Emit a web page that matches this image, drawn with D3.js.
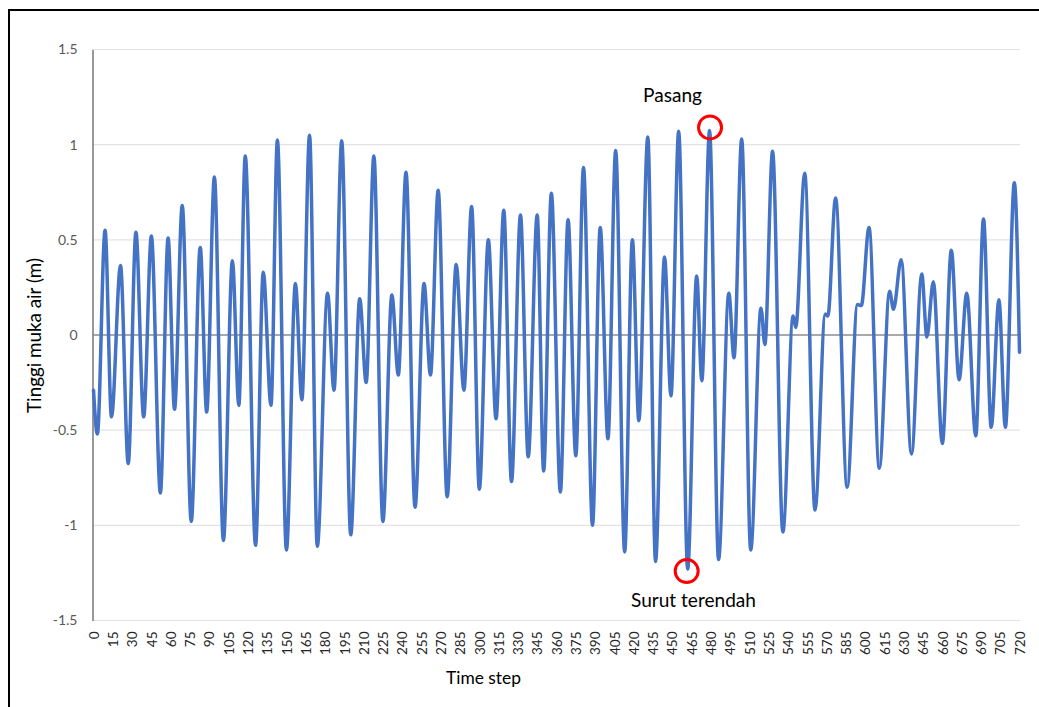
<!DOCTYPE html>
<html>
<head>
<meta charset="utf-8">
<script src="https://cdn.jsdelivr.net/npm/d3@7"></script>
<style>
  html, body { margin: 0; padding: 0; background: #fff; }
  svg { display: block; font-family: Lato, "Open Sans", sans-serif; }
</style>
</head>
<body>
<svg id="chart" width="1039" height="707"></svg>
<script>
// Water level turning points (time step, metres)
const timeSteps = [
  0, 3, 9, 14, 21, 27, 33, 39, 45, 52, 58, 63, 69, 76, 83, 88, 94, 101, 108, 113,
  118, 126, 132, 138, 143, 150, 157, 162, 168, 174, 182, 187, 193, 200, 207, 212, 218, 225, 232, 237,
  243, 250, 257, 262, 268, 275, 282, 288, 294, 300, 307, 313, 319, 325, 332, 338, 345, 350, 356, 363,
  369, 375, 381, 388, 394, 400, 406, 413, 419, 424, 431, 437, 444, 449, 455, 462, 469, 473, 479, 486,
  494, 498, 504, 511, 519, 522, 528, 536, 544, 546, 553, 561, 569, 571, 577, 586, 594, 597, 603, 611,
  619, 622, 628, 636, 644, 648, 653, 660, 667, 673, 679, 686, 692, 698, 704, 709, 716, 720
];
const waterLevel = [
  -0.29, -0.52, 0.55, -0.43, 0.365, -0.675, 0.54, -0.43, 0.52, -0.83, 0.51, -0.39, 0.68, -0.98, 0.46, -0.405, 0.83, -1.08, 0.39, -0.37,
  0.94, -1.105, 0.33, -0.37, 1.025, -1.13, 0.27, -0.34, 1.05, -1.11, 0.22, -0.29, 1.02, -1.05, 0.19, -0.25, 0.94, -0.98, 0.21, -0.21,
  0.855, -0.905, 0.27, -0.21, 0.76, -0.85, 0.37, -0.29, 0.675, -0.81, 0.50, -0.44, 0.655, -0.77, 0.63, -0.64, 0.63, -0.715, 0.745, -0.825,
  0.605, -0.635, 0.88, -1.0, 0.565, -0.545, 0.97, -1.14, 0.50, -0.45, 1.04, -1.19, 0.41, -0.32, 1.07, -1.23, 0.31, -0.24, 1.075, -1.18,
  0.22, -0.12, 1.03, -1.13, 0.14, -0.05, 0.965, -1.035, 0.10, 0.04, 0.85, -0.92, 0.11, 0.10, 0.72, -0.80, 0.16, 0.155, 0.565, -0.70,
  0.23, 0.135, 0.395, -0.625, 0.32, -0.01, 0.28, -0.57, 0.445, -0.235, 0.22, -0.53, 0.61, -0.485, 0.185, -0.485, 0.80, -0.09
];
const xTicks = d3.range(0, 721, 15);
const yTicks = [-1.5, -1, -0.5, 0, 0.5, 1, 1.5];
const yTickLabels = ["-1.5", "-1", "-0.5", "0", "0.5", "1", "1.5"];
const xTitle = "Time step";
const yTitle = "Tinggi muka air (m)";
const highLabel = "Pasang";
const lowLabel = "Surut terendah";

const points = timeSteps.map((t, i) => ({ t, v: waterLevel[i] }));

const svg = d3.select("#chart");
const plot = { left: 92.5, right: 1020, top: 49.5, bottom: 620.5 };

const x = d3.scaleLinear().domain([0, 720]).range([93.5, 1019.5]);
const y = d3.scaleLinear().domain([-1.5, 1.5]).range([plot.bottom, plot.top]);

// scale a label's font so that its run length equals the given width
function fitWidth(sel, width) {
  const base = parseFloat(sel.style("font-size"));
  const w = sel.node().getComputedTextLength();
  if (w > 0) sel.style("font-size", (base * width / w).toFixed(2) + "px");
  return sel;
}

// frame
svg.append("path")
  .attr("d", `M9,707 V10 H1039`)
  .attr("fill", "none").attr("stroke", "#000").attr("stroke-width", 2);

// horizontal gridlines
svg.append("g").selectAll("line")
  .data(yTicks.filter(d => d !== 0))
  .join("line")
  .attr("x1", plot.left).attr("x2", plot.right)
  .attr("y1", d => y(d)).attr("y2", d => y(d))
  .attr("stroke", "#e3e3e3").attr("stroke-width", 1.2);

// y axis with labels
const yAxis = svg.append("g")
  .attr("transform", `translate(${plot.left},0)`)
  .call(d3.axisLeft(y).tickValues(yTicks).tickSize(0).tickPadding(15)
    .tickFormat((d, i) => yTickLabels[i]));
yAxis.select(".domain").attr("stroke", "#7f7f7f").attr("stroke-width", 1.6);
yAxis.selectAll("text")
  .attr("fill", "#595959").style("font-size", "14px").style("font-family", "Lato, sans-serif");

// zero line (category axis crossing)
svg.append("line")
  .attr("x1", plot.left).attr("x2", plot.right)
  .attr("y1", y(0)).attr("y2", y(0))
  .attr("stroke", "#8c8c8c").attr("stroke-width", 1.4);

// x axis labels placed below the plot
const xAxis = svg.append("g")
  .attr("transform", `translate(0,${plot.bottom})`)
  .call(d3.axisBottom(x).tickValues(xTicks).tickSize(0).tickFormat(d3.format("d")));
xAxis.select(".domain").remove();
xAxis.selectAll("text")
  .attr("transform", "rotate(-90)")
  .attr("x", -11).attr("y", 0).attr("dy", "0.35em")
  .attr("text-anchor", "end")
  .attr("fill", "#262626")
  .style("font-size", "13.5px").style("font-family", "Lato, sans-serif");

// water level line
const line = d3.line()
  .x(d => x(d.t)).y(d => y(d.v))
  .curve(d3.curveMonotoneX);
svg.append("path")
  .datum(points)
  .attr("d", line)
  .attr("fill", "none")
  .attr("stroke", "#4472C4")
  .attr("stroke-width", 3.5)
  .attr("stroke-linejoin", "round")
  .attr("stroke-linecap", "round");

// highest and lowest water markers
const hi = points.reduce((a, b) => (b.v > a.v ? b : a));
const lo = points.reduce((a, b) => (b.v < a.v ? b : a));
svg.append("circle")
  .attr("cx", x(hi.t) + 0.5).attr("cy", y(hi.v) - 3).attr("r", 11.5)
  .attr("fill", "none").attr("stroke", "#ff0000").attr("stroke-width", 3);
svg.append("circle")
  .attr("cx", x(lo.t) - 1).attr("cy", y(lo.v) + 2).attr("r", 11.5)
  .attr("fill", "none").attr("stroke", "#ff0000").attr("stroke-width", 3);

fitWidth(svg.append("text")
  .attr("x", 672.5).attr("y", 102)
  .attr("text-anchor", "middle")
  .style("font-size", "16px").attr("fill", "#000")
  .text(highLabel), 59);
fitWidth(svg.append("text")
  .attr("x", 693.5).attr("y", 607)
  .attr("text-anchor", "middle")
  .style("font-size", "16px").attr("fill", "#000")
  .text(lowLabel), 125);

// axis titles
fitWidth(svg.append("text")
  .attr("x", 483.5).attr("y", 684)
  .attr("text-anchor", "middle")
  .style("font-size", "16px").attr("fill", "#000")
  .text(xTitle), 75);
fitWidth(svg.append("text")
  .attr("transform", `translate(41,335.5) rotate(-90)`)
  .attr("text-anchor", "middle")
  .style("font-size", "16px").attr("fill", "#000")
  .text(yTitle), 155);
</script>
</body>
</html>
